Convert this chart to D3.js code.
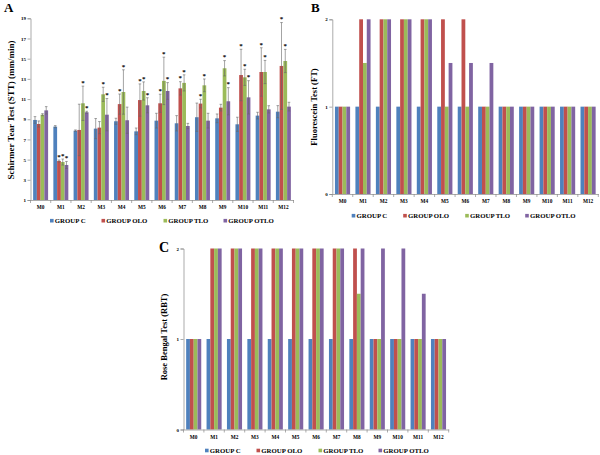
<!DOCTYPE html>
<html>
<head>
<meta charset="utf-8">
<script src="https://cdn.jsdelivr.net/npm/d3@7"></script>
<style>
  html, body { margin: 0; padding: 0; background: #fff; }
  svg { display: block; }
  text { font-family: "Liberation Serif", "Times New Roman", serif; font-weight: bold; fill: #000; }
</style>
</head>
<body>
<svg id="chart" width="600" height="455"></svg>
<script>
// ---------- DATA ----------
const months = ["M0","M1","M2","M3","M4","M5","M6","M7","M8","M9","M10","M11","M12"];
const groups = ["GROUP C","GROUP OLO","GROUP TLO","GROUP OTLO"];
const groupColors = ["#4F81BD","#C0504D","#9BBB59","#8064A2"];

// Panel A: Schirmer Tear Test (mm/min)
const sttC    = [8.93, 8.27, 7.87, 8.07, 8.80, 7.80, 8.86, 8.60, 9.20, 9.09, 8.50, 9.36, 9.75];
const sttOLO  = [8.53, 4.86, 7.94, 8.17, 10.50, 10.90, 10.58, 12.06, 10.55, 10.15, 13.38, 13.68, 14.28];
const sttTLO  = [9.45, 4.76, 10.58, 11.47, 11.70, 11.80, 12.80, 12.60, 12.36, 14.05, 13.15, 13.68, 14.77];
const sttOTLO = [9.88, 4.47, 9.69, 9.45, 8.90, 10.38, 11.80, 8.33, 8.86, 10.78, 11.17, 9.98, 10.25];
const errC    = [0.33, 0.10, 0.07, 1.00, 0.30, 0.33, 0.73, 0.76, 1.40, 0.43, 0.70, 0.33, 0.60];
const errOLO  = [0.30, 0.10, 2.55, 0.60, 1.00, 1.60, 0.90, 0.66, 0.43, 0.33, 2.55, 2.40, 4.30];
const errTLO  = [0.10, 0.30, 1.70, 0.70, 2.20, 0.90, 2.35, 0.80, 0.63, 0.76, 0.80, 1.15, 1.15];
const errOTLO = [0.37, 0.35, 0.10, 1.60, 1.30, 0.75, 0.83, 0.26, 0.73, 1.35, 1.65, 0.36, 0.43];
const sigC    = [0,0,0,0,0,0,0,0,0,0,0,0,0];
const sigOLO  = [0,1,0,0,1,1,1,1,1,0,1,1,1];
const sigTLO  = [0,1,1,1,1,1,1,1,1,1,1,1,1];
const sigOTLO = [0,1,1,1,0,1,1,0,0,1,1,0,0];
const sttTicks = [1,3,5,7,9,11,13,15,17,19];

// Panel B: Fluorescein Test (FT)
const ftC    = [1,1,1,1,1,1,1,1,1,1,1,1,1];
const ftOLO  = [1,2,2,2,2,2,2,1,1,1,1,1,1];
const ftTLO  = [1,1.5,2,2,2,1,1,1,1,1,1,1,1];
const ftOTLO = [1,2,2,2,2,1.5,1.5,1.5,1,1,1,1,1];

// Panel C: Rose Bengal Test (RBT)
const rbC    = [1,1,1,1,1,1,1,1,1,1,1,1,1];
const rbOLO  = [1,2,2,2,2,2,2,2,2,1,1,1,1];
const rbTLO  = [1,2,2,2,2,2,2,2,1.5,1,1,1,1];
const rbOTLO = [1,2,2,2,2,2,2,2,2,2,2,1.5,1];
const scoreTicks = [0,1,2];

// ---------- DRAWING ----------
const svg = d3.select("#chart");
const legendOffsets = [0, 51.5, 113.5, 173.5];

function drawPanel(cfg) {
  const g = svg.append("g");
  const x = d3.scaleBand().domain(months).range([cfg.x0, cfg.x1])
    .paddingInner(0.26).paddingOuter(0.13);
  const xs = d3.scaleBand().domain(groups).range([0, x.bandwidth()]);
  const y = d3.scaleLinear().domain(cfg.domain).range([cfg.yBottom, cfg.yTop]);

  // bars
  cfg.series.forEach((vals, gi) => {
    g.append("g").selectAll("rect").data(vals).join("rect")
      .attr("x", (d, i) => x(months[i]) + xs(groups[gi]))
      .attr("width", xs.bandwidth())
      .attr("y", d => y(d))
      .attr("height", d => y(cfg.domain[0]) - y(d))
      .attr("fill", groupColors[gi]);
  });

  // error bars + stars
  if (cfg.errors) {
    cfg.errors.forEach((errs, gi) => {
      const vals = cfg.series[gi];
      const eg = g.append("g").attr("stroke", "#666").attr("stroke-width", 0.6);
      errs.forEach((e, i) => {
        const cx = x(months[i]) + xs(groups[gi]) + xs.bandwidth() / 2;
        const top = y(vals[i] + e), bot = y(vals[i] - e);
        eg.append("line").attr("x1", cx).attr("x2", cx).attr("y1", top).attr("y2", bot);
        eg.append("line").attr("x1", cx - 1.3).attr("x2", cx + 1.3).attr("y1", top).attr("y2", top);
        eg.append("line").attr("x1", cx - 1.3).attr("x2", cx + 1.3).attr("y1", bot).attr("y2", bot);
        if (cfg.sig[gi][i]) {
          g.append("text").attr("x", cx).attr("y", top - 1.2)
            .attr("text-anchor", "middle").attr("font-size", 7).text("*");
        }
      });
    });
  }

  // y axis
  const yAxis = d3.axisLeft(y).tickValues(cfg.ticks).tickSize(3).tickPadding(1.5)
    .tickFormat(d3.format("d"));
  const ya = g.append("g").attr("transform", `translate(${cfg.x0},0)`).call(yAxis);
  ya.selectAll("path, line").attr("stroke", "#888").attr("stroke-width", 0.7);
  ya.selectAll("text").attr("font-size", 5).attr("font-family", "Liberation Serif")
    .attr("font-weight", "bold").attr("fill", "#000");

  // x axis
  const xAxis = d3.axisBottom(x).tickSize(0).tickPadding(5.5);
  const xa = g.append("g").attr("transform", `translate(0,${cfg.yBottom})`).call(xAxis);
  xa.select("path").attr("stroke", "#888").attr("stroke-width", 0.7);
  xa.selectAll("text").attr("font-size", 5.3).attr("font-family", "Liberation Serif")
    .attr("font-weight", "bold").attr("fill", "#000");
  // category separator ticks
  const step = x.step();
  const bounds = d3.range(months.length + 1).map(i => cfg.x0 + i * step);
  g.append("g").selectAll("line").data(bounds).join("line")
    .attr("x1", d => d).attr("x2", d => d)
    .attr("y1", cfg.yBottom).attr("y2", cfg.yBottom + 3)
    .attr("stroke", "#888").attr("stroke-width", 0.7);

  // y title
  g.append("text")
    .attr("transform", `translate(${cfg.titleX},${cfg.titleY}) rotate(-90)`)
    .attr("text-anchor", "middle").attr("font-size", cfg.titleSize)
    .text(cfg.title);

  // panel letter
  g.append("text").attr("x", cfg.letterX).attr("y", cfg.letterY)
    .attr("font-size", cfg.letterSize).text(cfg.letter);

  // legend
  const lg = g.append("g");
  groups.forEach((name, gi) => {
    const lx = cfg.legendX + legendOffsets[gi];
    lg.append("rect").attr("x", lx).attr("y", cfg.legendY - 1.8)
      .attr("width", 3.6).attr("height", 3.6).attr("fill", groupColors[gi]);
    lg.append("text").attr("x", lx + 4.8).attr("y", cfg.legendY + 2.4)
      .attr("font-size", 6.8).text(name);
  });
}

drawPanel({
  letter: "A", letterX: 4, letterY: 12, letterSize: 13,
  x0: 30.5, x1: 293.5, yBottom: 200, yTop: 18.3, domain: [1, 19], ticks: sttTicks,
  series: [sttC, sttOLO, sttTLO, sttOTLO],
  errors: [errC, errOLO, errTLO, errOTLO],
  sig: [sigC, sigOLO, sigTLO, sigOTLO],
  title: "Schirmer Tear Test (STT) (mm/min)", titleX: 14, titleY: 110, titleSize: 9,
  legendX: 50, legendY: 220.7
});

drawPanel({
  letter: "B", letterX: 311, letterY: 12, letterSize: 13,
  x0: 332.3, x1: 598.3, yBottom: 194, yTop: 19.3, domain: [0, 2], ticks: scoreTicks,
  series: [ftC, ftOLO, ftTLO, ftOTLO],
  title: "Fluorescein Test  (FT)", titleX: 317, titleY: 107, titleSize: 8.5,
  legendX: 351.7, legendY: 215.7
});

drawPanel({
  letter: "C", letterX: 159, letterY: 252, letterSize: 14,
  x0: 183.5, x1: 448.7, yBottom: 429.5, yTop: 248.5, domain: [0, 2], ticks: scoreTicks,
  series: [rbC, rbOLO, rbTLO, rbOTLO],
  title: "Rose Bengal  Test (RBT)", titleX: 167, titleY: 337, titleSize: 8.5,
  legendX: 205, legendY: 450.5
});
</script>
</body>
</html>
